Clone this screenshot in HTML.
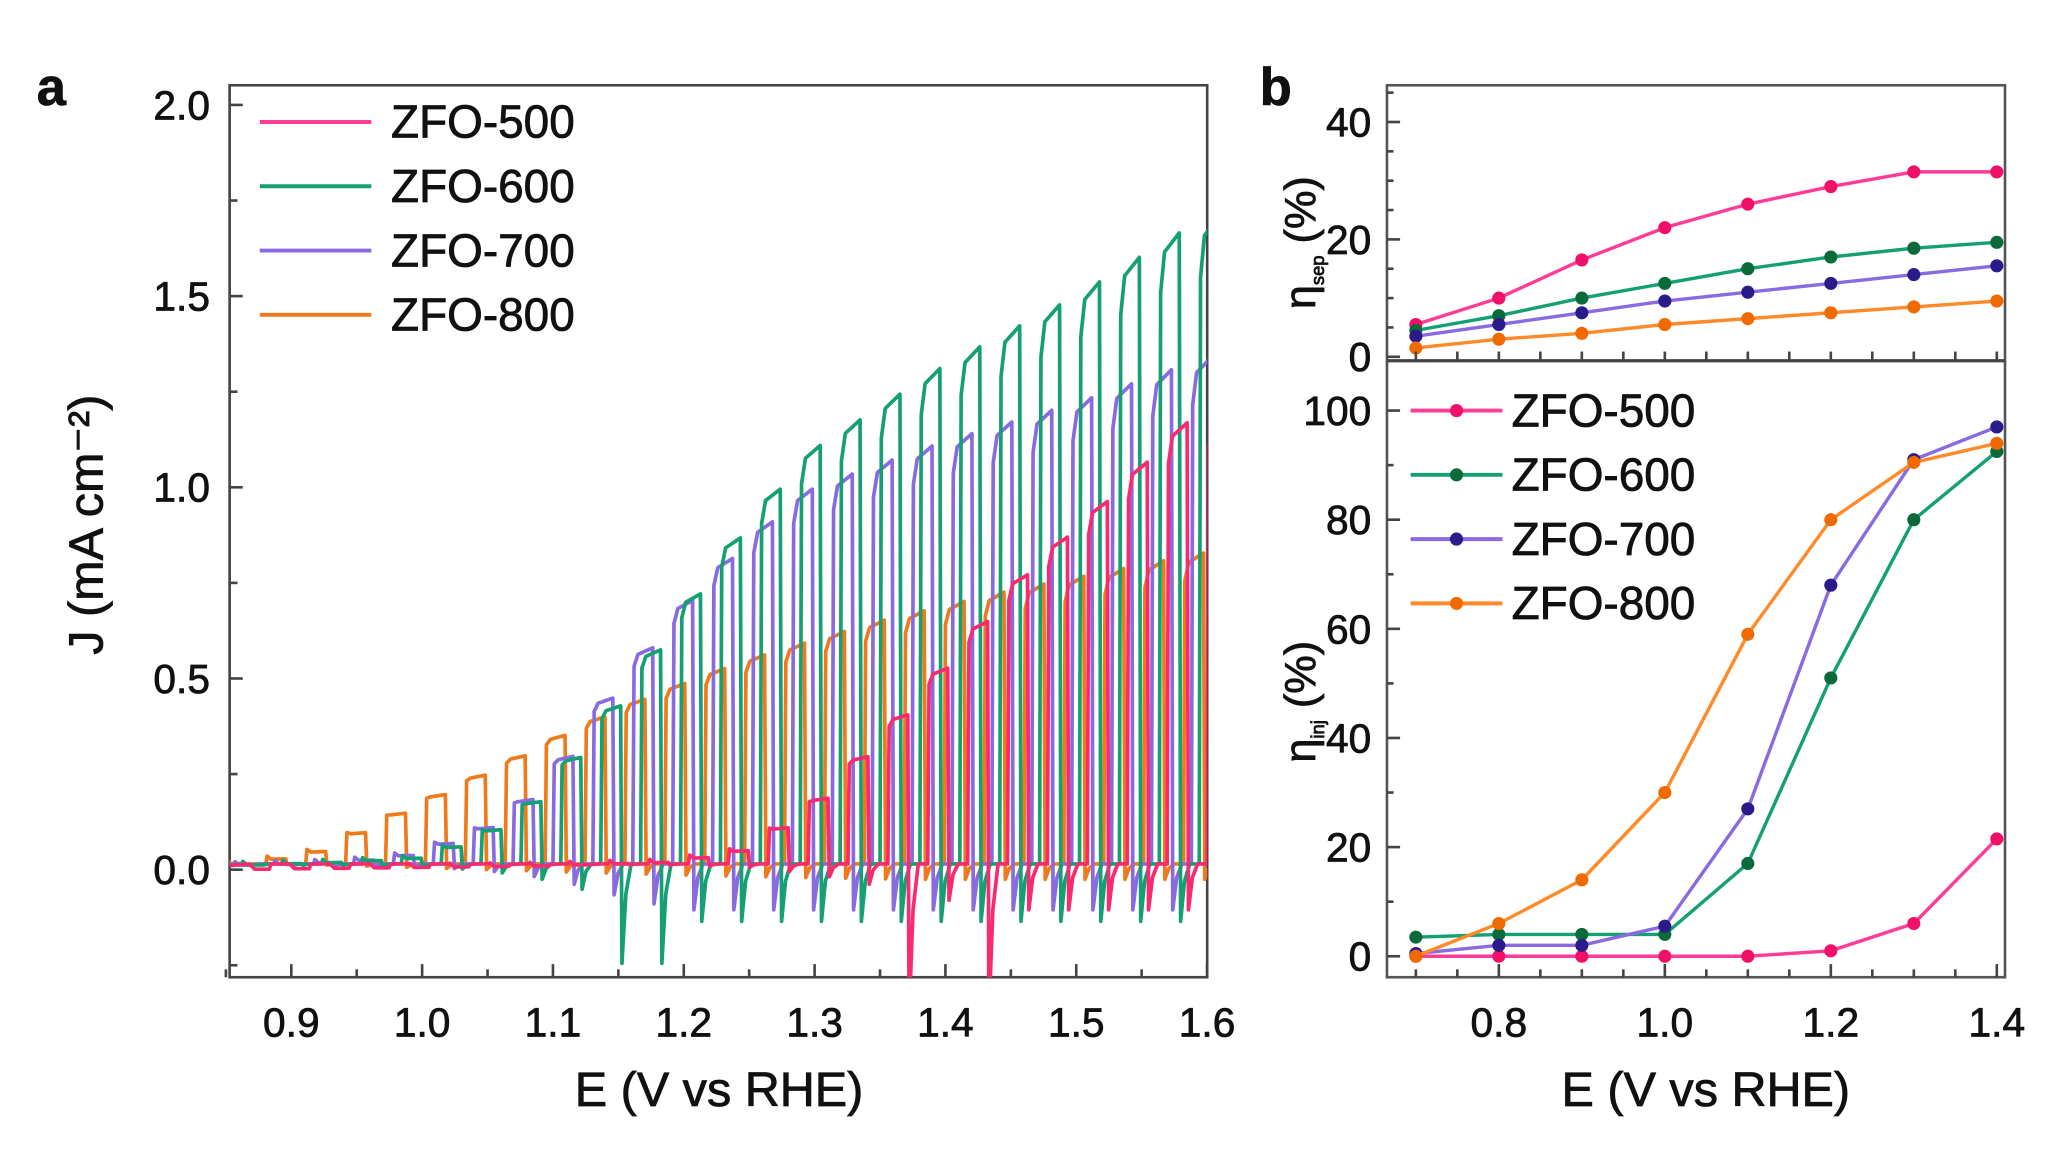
<!DOCTYPE html>
<html><head><meta charset="utf-8">
<style>
html,body{margin:0;padding:0;background:#fff;}
svg{display:block;}
text{font-family:"Liberation Sans",Arial,sans-serif;fill:#111;stroke:#111;stroke-width:0.6;}
</style></head>
<body>
<svg id="s" width="2047" height="1153" viewBox="0 0 1560 879" preserveAspectRatio="none" xmlns="http://www.w3.org/2000/svg">
<rect width="1560" height="879" fill="#fff"/>
<g id="a"></g>
<g id="b"></g>
</svg>
<script>
(function(){
const NS="http://www.w3.org/2000/svg";
function el(p,t,a,txt){const e=document.createElementNS(NS,t);for(const k in a)e.setAttribute(k,a[k]);if(txt!==undefined)e.textContent=txt;p.appendChild(e);return e;}
const A=document.getElementById('a'),B=document.getElementById('b');
const ax=(E)=>222+(E-0.9)*997, ay=(J)=>663-J*291.5;
function interp(pts,x){if(x<=pts[0][0])return pts[0][1];for(let i=1;i<pts.length;i++){if(x<=pts[i][0]){const x0=pts[i-1][0],y0=pts[i-1][1],x1=pts[i][0],y1=pts[i][1];return y0+(y1-y0)*(x-x0)/(x1-x0);}}return pts[pts.length-1][1];}
const series=[
 {c:"#f07a1a",env:[[0.85,0.01],[0.9,0.03],[0.93,0.05],[0.97,0.12],[1.02,0.2],[1.08,0.3],[1.12,0.37],[1.18,0.46],[1.25,0.55],[1.35,0.65],[1.45,0.73],[1.6,0.83]],ph:0.0,neg:0.04},
 {c:"#8a6ae0",env:[[0.85,0.01],[0.95,0.02],[1.0,0.04],[1.05,0.1],[1.1,0.22],[1.15,0.47],[1.2,0.68],[1.25,0.86],[1.3,1.0],[1.4,1.12],[1.5,1.22],[1.6,1.34]],ph:0.006,neg:0.12},
 {c:"#14a072",env:[[0.85,0.01],[0.95,0.02],[1.0,0.03],[1.05,0.08],[1.1,0.2],[1.15,0.42],[1.2,0.66],[1.25,0.9],[1.3,1.1],[1.4,1.32],[1.5,1.5],[1.6,1.71]],ph:0.012,neg:0.15},
 {c:"#fa2a70",env:[[0.85,0.0],[1.1,0.01],[1.2,0.02],[1.25,0.05],[1.3,0.15],[1.37,0.4],[1.42,0.6],[1.47,0.8],[1.52,0.95],[1.6,1.22]],ph:0.018,neg:0.12}
];
const P=0.0305;
el(A,'rect',{x:175,y:65,width:745,height:680,fill:'none',stroke:'#444','stroke-width':2});
const defs=el(A,'defs',{});
const cp=el(defs,'clipPath',{id:'ca'});el(cp,'rect',{x:175,y:65,width:745,height:680});
const g=el(A,'g',{'clip-path':'url(#ca)'});
series.forEach((s,si)=>{
 let d="M"+ax(0.85)+","+ay(0.01);
 for(let E0=0.85+s.ph;E0<1.62;E0+=P){
  const on=E0, off=E0+P*0.5;
  const J=interp(s.env,off);
  const Jd=0.015;
  d+=" L"+ax(on)+","+ay(Jd)+" L"+ax(on+0.001)+","+ay(J*0.9+0.01)+" L"+ax(on+0.004)+","+ay(J*0.97)+" L"+ax(off)+","+ay(J);
  let ng=s.neg*Math.min(1,J*1.5);
  if(si===2&&Math.abs(off-1.17)<0.02)ng=0.26;
  if(si===3&&Math.abs(off-1.37)<0.02)ng=0.4;
  if(si===3&&Math.abs(off-1.43)<0.02)ng=0.4;
  d+=" L"+ax(off+0.001)+","+ay(Jd-ng)+" L"+ax(off+0.004)+","+ay(Jd-ng*0.3)+" L"+ax(off+0.008)+","+ay(Jd);
 }
 el(g,'path',{d:d,fill:'none',stroke:s.c,'stroke-width':2.8,'stroke-linejoin':'round'});
});
for(let k=-1;k<=8;k++){const v=k*0.25;const y=ay(v);el(A,'line',{x1:175,x2:k%2===0?185:181,y1:y,y2:y,stroke:'#444','stroke-width':2});}
[0,0.5,1,1.5,2].forEach(v=>el(A,'text',{x:160,y:ay(v)+11,'font-size':31,'text-anchor':'end'},v.toFixed(1)));
for(let k=0;k<=15;k++){const E=0.85+k*0.05;const x=ax(E);const maj=(k%2===1);el(A,'line',{x1:x,x2:x,y1:745,y2:maj?735:739,stroke:'#444','stroke-width':2});}
[0.9,1.0,1.1,1.2,1.3,1.4,1.5,1.6].forEach(E=>el(A,'text',{x:ax(E),y:790,'font-size':31,'text-anchor':'middle'},E.toFixed(1)));
el(A,'text',{x:548,y:843,'font-size':37,'text-anchor':'middle'},'E (V vs RHE)');
el(A,'text',{x:0,y:0,'font-size':37,'text-anchor':'middle',transform:'translate(78,400) rotate(-90)'},'J (mA cm⁻²)');
el(A,'text',{x:28,y:80,'font-size':40,'font-weight':'bold'},'a');
const leg=[["#ff3d96","ZFO-500"],["#14a072","ZFO-600"],["#8a6ae0","ZFO-700"],["#f07a1a","ZFO-800"]];
leg.forEach((l,i)=>{const y=93+i*49;el(A,'line',{x1:198,x2:283,y1:y,y2:y,stroke:l[0],'stroke-width':3});el(A,'text',{x:298,y:y+12,'font-size':35},l[1]);});
const bx=E=>1079+(E-0.7)*632.5;
const ty=v=>272-v*4.475, by=v=>729-v*4.16;
el(B,'rect',{x:1057,y:65,width:471,height:680,fill:'none',stroke:'#555','stroke-width':2});
el(B,'line',{x1:1057,x2:1528,y1:275,y2:275,stroke:'#444','stroke-width':2.5});
const Es=[0.7,0.8,0.9,1.0,1.1,1.2,1.3,1.4];
const topSet=[["#ff3d96","#f0106a",[5.5,10,16.5,22,26,29,31.5,31.5]],["#14a072","#0a6a3a",[4.5,7,10,12.5,15,17,18.5,19.5]],["#8a6ae0","#2a1a8a",[3.5,5.5,7.5,9.5,11,12.5,14,15.5]],["#ff8a2a","#f06a00",[1.5,3,4,5.5,6.5,7.5,8.5,9.5]]];
const botSet=[["#ff3d96","#f0106a",[0,0,0,0,0,1,6,21.5]],["#14a072","#0a6a3a",[3.5,4,4,4,17,51,80,92.5]],["#8a6ae0","#2a1a8a",[0.5,2,2,5.5,27,68,91,97]],["#ff8a2a","#f06a00",[0,6,14,30,59,80,90.5,94]]];
function plot(set,fy){set.forEach(s=>{el(B,'polyline',{points:Es.map((E,i)=>bx(E)+","+fy(s[2][i])).join(' '),fill:'none',stroke:s[0],'stroke-width':2.6});Es.forEach((E,i)=>el(B,'circle',{cx:bx(E),cy:fy(s[2][i]),r:5,fill:s[1]}));});}
plot(topSet,ty);plot(botSet,by);
for(let v=0;v<=45;v+=5){const y=ty(v);if(y<65)break;el(B,'line',{x1:1057,x2:v%20===0?1067:1062,y1:y,y2:y,stroke:'#444','stroke-width':2});}
[0,20,40].forEach(v=>el(B,'text',{x:1045,y:ty(v)+11,'font-size':31,'text-anchor':'end'},v));
for(let v=0;v<=100;v+=10){const y=by(v);el(B,'line',{x1:1057,x2:v%20===0?1067:1062,y1:y,y2:y,stroke:'#444','stroke-width':2});}
[0,20,40,60,80,100].forEach(v=>el(B,'text',{x:1045,y:by(v)+11,'font-size':31,'text-anchor':'end'},v));
for(let k=0;k<=14;k++){const E=0.7+k*0.05;const x=bx(E);const maj=(k%4===2);el(B,'line',{x1:x,x2:x,y1:745,y2:maj?735:739,stroke:'#444','stroke-width':2});el(B,'line',{x1:x,x2:x,y1:275,y2:268,stroke:'#444','stroke-width':2});}
[0.8,1.0,1.2,1.4].forEach(E=>el(B,'text',{x:bx(E),y:790,'font-size':31,'text-anchor':'middle'},E.toFixed(1)));
el(B,'text',{x:1300,y:843,'font-size':37,'text-anchor':'middle'},'E (V vs RHE)');
function etaLabel(cy,sub){
 const t=el(B,'text',{x:0,y:0,'font-size':33,'text-anchor':'middle',transform:'translate(1002,'+cy+') rotate(-90)'});
 el(t,'tspan',{},'η');
 el(t,'tspan',{'font-size':14,dy:7},sub);
 el(t,'tspan',{dy:-7},' (%)');
}
etaLabel(185,'sep');etaLabel(535,'inj');
el(B,'text',{x:960,y:80,'font-size':40,'font-weight':'bold'},'b');
leg.forEach((l,i)=>{const y=313+i*49;const c=botSet[i];el(B,'line',{x1:1075,x2:1145,y1:y,y2:y,stroke:c[0],'stroke-width':3});el(B,'circle',{cx:1110,cy:y,r:5,fill:c[1]});el(B,'text',{x:1152,y:y+12,'font-size':35},l[1]);});
})();
</script>
</body></html>
